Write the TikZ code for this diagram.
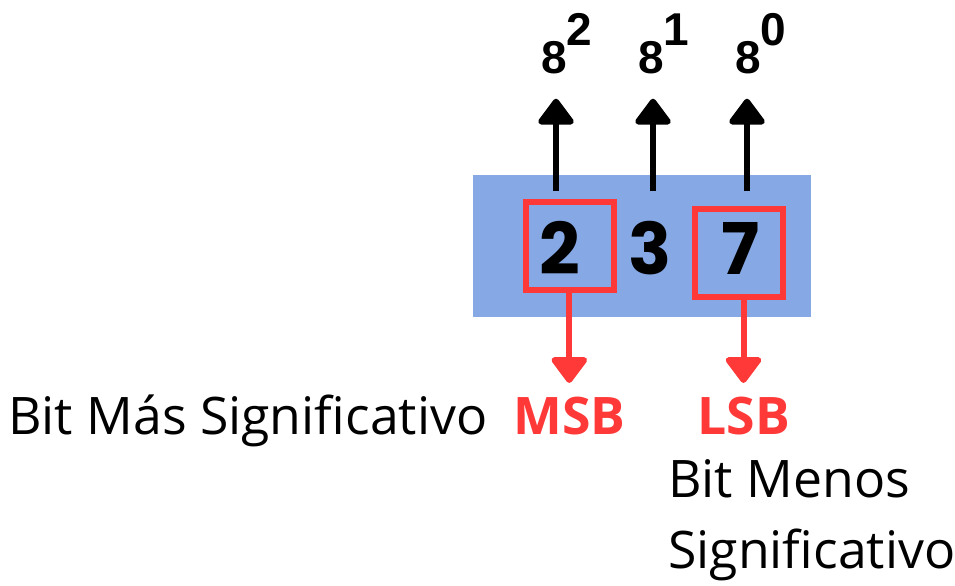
\documentclass[tikz,border=0pt]{standalone}
\usepackage{fontspec}
\setmainfont{Open Sans}
\newfontfamily\digitfont{Poppins}[UprightFont=* Bold]
\newfontfamily\powfont{Liberation Sans}[UprightFont=* Bold]
\usetikzlibrary{arrows.meta, positioning}

\definecolor{boxblue}{RGB}{134,168,228}
\definecolor{markred}{RGB}{255,56,56}

\tikzset{
    txt/.style={inner sep=0pt, anchor=base west, font=\fontsize{38.8}{53.25}\selectfont},
    redtxt/.style={txt, text=markred, font=\fontsize{38.8}{53.25}\selectfont\bfseries},
    digit/.style={inner sep=0pt, anchor=base, font=\digitfont\fontsize{53.5}{60}\selectfont},
    pow/.style={inner sep=0pt, anchor=base, font=\powfont\fontsize{34.5}{40}\selectfont},
    redbox/.style={draw=markred, line width=4.5pt, minimum width=66pt, minimum height=66pt, inner sep=0pt},
    uparrow/.style={line width=4.5pt, arrows={-Triangle[width=30pt, length=21pt, line join=round]}},
    downarrow/.style={uparrow, draw=markred}
}

\begin{document}
\begin{tikzpicture}[x=0.75pt, y=-0.75pt]
        \useasboundingbox (0, 0) rectangle (955, 585);
        \node[fill=boxblue, minimum width=253.5pt, minimum height=106.5pt, inner sep=0pt] (num) at (642, 246) {};
        \node[redbox] (msbbox) at (570, 246) {};
        \node[redbox] (lsbbox) at (739, 252.5) {};
        \node[digit] (d2) at (560, 274) {2};
        \node[digit] (d3) at (650, 274) {3};
        \node[digit] (d7) at (741, 274) {7};
        % powers of eight
        \node[pow] (p2) at (554, 74) {8\rlap{\raisebox{21pt}{2}}};
        \node[pow] (p1) at (651, 74) {8\rlap{\raisebox{21pt}{1}}};
        \node[pow] (p0) at (748, 74) {8\rlap{\raisebox{21pt}{0}}};
        \coordinate (b2) at (556, 191);
        \coordinate (b1) at (653, 191);
        \coordinate (b0) at (747, 191);
        \draw[uparrow, shorten >=18pt] (b2) -- (b2 |- p2.south);
        \draw[uparrow, shorten >=18pt] (b1) -- (b1 |- p1.south);
        \draw[uparrow, shorten >=18pt] (b0) -- (b0 |- p0.south);
        % labels
        \node[txt] (msbtext) at (8, 434) {Bit Más Significativo};
        \node[redtxt] (msb) at (513, 434) {MSB};
        \node[redtxt] (lsb) at (697, 434) {LSB};
        \node[txt, align=left] (lsbtext) at (668, 568) {Bit Menos\\Significativo};
        \draw[downarrow, shorten >=10pt] (msbbox.south -| msb.north) -- (msb.north);
        \draw[downarrow, shorten >=10pt] (lsbbox.south -| lsb.north) -- (lsb.north);
    \end{tikzpicture}
\end{document}
